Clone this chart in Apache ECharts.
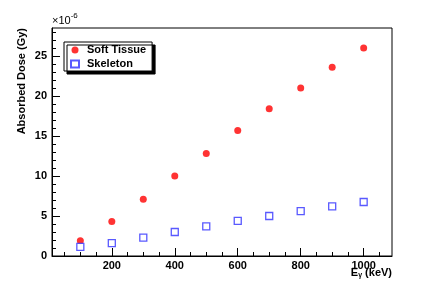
<!DOCTYPE html>
<html><head><meta charset="utf-8">
<script src="https://cdn.jsdelivr.net/npm/echarts@6/dist/echarts.min.js"></script>
<style>html,body{margin:0;padding:0;background:#fff}#c{width:436px;height:285px}</style>
</head><body><div id="c"></div>
<script>
const energies = [100, 200, 300, 400, 500, 600, 700, 800, 900, 1000];
const softTissue = [1.9, 4.3, 7.1, 10.0, 12.8, 15.7, 18.4, 21.0, 23.6, 26.0];
const skeleton = [1.15, 1.6, 2.3, 3.0, 3.7, 4.4, 5.0, 5.6, 6.2, 6.75];
const xMajorTicks = [200, 400, 600, 800, 1000];
const xMinorTicks = [50, 100, 150, 250, 300, 350, 450, 500, 550, 650, 700, 750, 850, 900, 950, 1050];
const yMajorTicks = [0, 5, 10, 15, 20, 25];
const yMinorTicks = [1,2,3,4,6,7,8,9,11,12,13,14,16,17,18,19,21,22,23,24,26,27,28];

const FONT = '"Liberation Sans", Arial, sans-serif';
const chart = echarts.init(document.getElementById('c'), null, {renderer: 'canvas'});
const lbl = {fontFamily: FONT, fontWeight: 'bold', fontSize: 11, color: '#000', formatter: v => String(v)};
chart.setOption({
  animation: false,
  backgroundColor: '#fff',
  grid: {left: 52, top: 28, right: 44, bottom: 29, show: true, borderColor: '#000', borderWidth: 1, backgroundColor: 'transparent'},
  xAxis: [
    {type: 'value', min: 10, max: 1090, position: 'bottom',
     axisLine: {show: true, lineStyle: {color: '#000', width: 1}},
     axisTick: {show: true, inside: true, length: 8, customValues: xMajorTicks, lineStyle: {color: '#000'}},
     axisLabel: Object.assign({show: true, customValues: xMajorTicks, margin: 4}, lbl),
     splitLine: {show: false}},
    {type: 'value', min: 10, max: 1090, position: 'bottom',
     axisLine: {show: false},
     axisTick: {show: true, inside: true, length: 4, customValues: xMinorTicks, lineStyle: {color: '#000'}},
     axisLabel: {show: false}, splitLine: {show: false}}
  ],
  yAxis: [
    {type: 'value', min: 0, max: 28.5, position: 'left',
     axisLine: {show: true, lineStyle: {color: '#000', width: 1}},
     axisTick: {show: true, inside: true, length: 8, customValues: yMajorTicks, lineStyle: {color: '#000'}},
     axisLabel: Object.assign({show: true, customValues: yMajorTicks, margin: 5}, lbl),
     splitLine: {show: false}},
    {type: 'value', min: 0, max: 28.5, position: 'left',
     axisLine: {show: false},
     axisTick: {show: true, inside: true, length: 4, customValues: yMinorTicks, lineStyle: {color: '#000'}},
     axisLabel: {show: false}, splitLine: {show: false}}
  ],
  legend: {
    orient: 'vertical', left: 64, top: 42,
    backgroundColor: '#fff', borderColor: '#000', borderWidth: 1,
    shadowColor: '#000', shadowBlur: 0, shadowOffsetX: 3, shadowOffsetY: 3,
    padding: [2, 6, 1, 6], itemGap: 2, itemWidth: 8, itemHeight: 7,
    textStyle: {fontFamily: FONT, fontWeight: 'bold', fontSize: 11, color: '#000', lineHeight: 12, padding: [0, 0, 0, 3]},
    data: ['Soft Tissue', 'Skeleton']
  },
  graphic: [
    {type: 'text', x: 22, y: 28, rotation: Math.PI / 2,
     style: {text: 'Absorbed Dose (Gy)', align: 'right', verticalAlign: 'middle', font: 'bold 11px ' + FONT, fill: '#000'}},
    {type: 'text', x: 52, y: 26,
     style: {text: '{a|×10}{b|-6}', verticalAlign: 'bottom', align: 'left',
       rich: {a: {font: '11px ' + FONT, fill: '#000', verticalAlign: 'bottom'}, b: {font: '8px ' + FONT, fill: '#000', verticalAlign: 'top', padding: [0,0,6,0]}}}},
    {type: 'text', x: 392, y: 279,
     style: {text: '{e|E}{g|γ}{e| (keV)}', align: 'right', verticalAlign: 'bottom',
       rich: {e: {font: 'bold 11px ' + FONT, fill: '#000'}, g: {font: 'bold 7px ' + FONT, fill: '#000', padding: [6,0,0,0]}}}}
  ],
  series: [
    {name: 'Soft Tissue', type: 'scatter', xAxisIndex: 0, yAxisIndex: 0,
     symbol: 'circle', symbolSize: 7,
     itemStyle: {color: '#ff0000'},
     data: energies.map((e, i) => [e, softTissue[i]])},
    {name: 'Skeleton', type: 'scatter', xAxisIndex: 0, yAxisIndex: 0,
     symbol: 'rect', symbolSize: 7,
     itemStyle: {color: '#ffffff', borderColor: '#3030ff', borderWidth: 1.3},
     data: energies.map((e, i) => [e, skeleton[i]])}
  ]
});
</script></body></html>
